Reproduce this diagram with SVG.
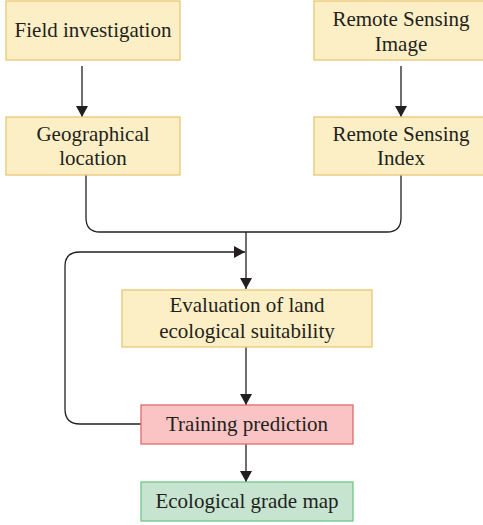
<svg xmlns="http://www.w3.org/2000/svg" width="483" height="525" viewBox="0 0 483 525">
<style>
.y{fill:#fdefc5;stroke:#eac672;stroke-width:1.3}
.r{fill:#f9c4c3;stroke:#e06a6a;stroke-width:1.3}
.g{fill:#c6e4d0;stroke:#72c683;stroke-width:1.3}
text{font-family:"Liberation Serif","Times New Roman",serif;font-size:21px;fill:#231f20;text-anchor:middle}
.c{fill:none;stroke:#231f20;stroke-width:1.3}
</style>
<defs>
<marker id="a" markerWidth="12" markerHeight="12" refX="11" refY="6" orient="auto" markerUnits="userSpaceOnUse">
<path d="M0,0 L11,6 L0,12 Z" fill="#231f20"/>
</marker>
</defs>
<rect width="483" height="525" fill="#fff"/>
<g id="connectors">
<path class="c" d="M82,66 V117" marker-end="url(#a)"/>
<path class="c" d="M401,66 V117" marker-end="url(#a)"/>
<path class="c" d="M86,175 V218 Q86,232 100,232 H387 Q401,232 401,218 V175"/>
<path class="c" d="M246,232 V289" marker-end="url(#a)"/>
<path class="c" d="M141,424 H80 Q65,424 65,409 V266 Q65,252 80,252 H245" marker-end="url(#a)"/>
<path class="c" d="M246,347 V405" marker-end="url(#a)"/>
<path class="c" d="M246,444 V482" marker-end="url(#a)"/>
</g>
<g id="field">
<rect class="y" x="6" y="1" width="174" height="59"/>
<text x="93" y="37">Field investigation</text>
</g>
<g id="rsimage">
<rect class="y" x="314" y="1" width="175" height="59"/>
<text x="401" y="26">Remote Sensing</text>
<text x="401" y="51">Image</text>
</g>
<g id="geo">
<rect class="y" x="6" y="117" width="174" height="58"/>
<text x="93" y="141">Geographical</text>
<text x="93" y="165">location</text>
</g>
<g id="rsindex">
<rect class="y" x="314" y="117" width="175" height="58"/>
<text x="401" y="141">Remote Sensing</text>
<text x="401" y="165">Index</text>
</g>
<g id="eval">
<rect class="y" x="122" y="290" width="250" height="57"/>
<text x="247" y="312">Evaluation of land</text>
<text x="247" y="338">ecological suitability</text>
</g>
<g id="train">
<rect class="r" x="141" y="405" width="212" height="39"/>
<text x="247" y="431">Training prediction</text>
</g>
<g id="map">
<rect class="g" x="141" y="482" width="212" height="39"/>
<text x="247" y="508">Ecological grade map</text>
</g>
</svg>
